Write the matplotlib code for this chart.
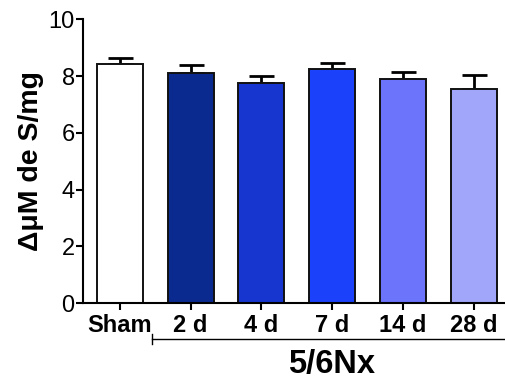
import matplotlib
matplotlib.use('Agg')
import matplotlib.pyplot as plt

plt.rcParams['font.family'] = ['Liberation Sans', 'DejaVu Sans']

# data
groups = ['Sham', '2 d', '4 d', '7 d', '14 d', '28 d']
means = [8.43, 8.11, 7.74, 8.25, 7.89, 7.56]
sems = [0.20, 0.27, 0.27, 0.20, 0.24, 0.48]
colors = ['#ffffff', '#0b2a8f', '#1636cf', '#1b41fb', '#6b74fb', '#a1a6fa']
yticks = [0, 2, 4, 6, 8, 10]

fig = plt.figure(figsize=(5.06, 3.79), dpi=100)
ax = fig.add_axes([0.164, 0.2005, 0.835, 0.7485])

x = list(range(len(groups)))
ax.bar(x, means, width=0.65, color=colors, edgecolor='#111111', linewidth=1.4, zorder=2)
ax.errorbar(x, means, yerr=[[0] * len(sems), sems], fmt='none', ecolor='black',
            elinewidth=2, capsize=9, capthick=2, zorder=1)

ax.set_xlim(-0.52, 5.45)
ax.set_ylim(0, 10)
ax.set_yticks(yticks)
ax.set_xticks(x)
ax.set_xticklabels(groups, fontsize=17, fontweight='bold')
ax.tick_params(axis='y', labelsize=17, width=1.5, length=5, pad=1)
ax.tick_params(axis='x', width=1.5, length=5, pad=3)
ax.set_ylabel('ΔμM de S/mg', fontsize=20.5, fontweight='bold', labelpad=3)

for side in ['top', 'right']:
    ax.spines[side].set_visible(False)
for side in ['left', 'bottom']:
    ax.spines[side].set_linewidth(1.5)

# group bracket for the 5/6Nx bars
ax.plot([0.46, 5.44], [-1.27, -1.27], color='black', lw=1, clip_on=False)
ax.plot([0.46, 0.46], [-1.1, -1.45], color='black', lw=1, clip_on=False)
ax.text(2.99, -2.15, '5/6Nx', fontsize=23.5, fontweight='bold', ha='center', va='center')

plt.savefig('out.png', dpi=100)
